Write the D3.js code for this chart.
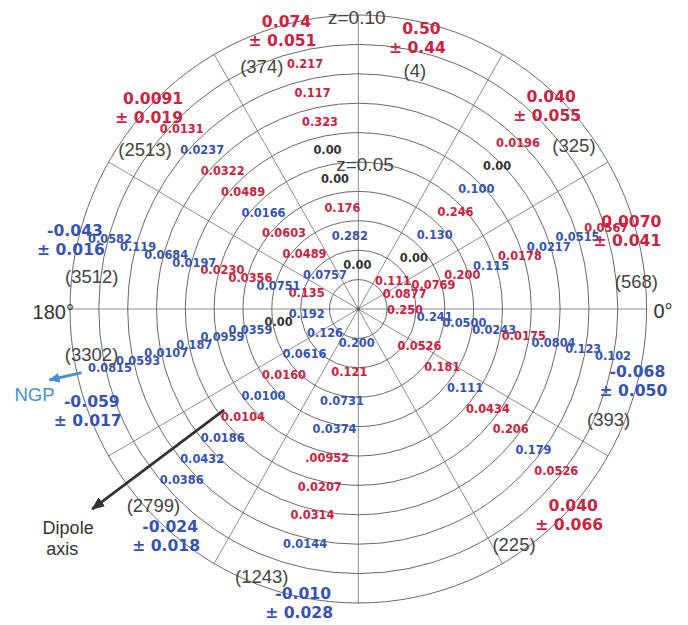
<!DOCTYPE html>
<html>
<head>
<meta charset="utf-8">
<script src="https://cdn.jsdelivr.net/npm/d3@7"></script>
<style>
  body { margin: 0; background: #fff; }
  svg { display: block; }
</style>
</head>
<body>
<svg id="chart" width="688" height="625"></svg>
<script>
// ---- data -----------------------------------------------------------------
// 30-degree sectors, counter-clockwise from 0°
const sectorStart = [0, 30, 60, 90, 120, 150, 180, 210, 240, 270, 300, 330];

// Shell values for redshift shells 0.01-0.02 ... 0.08-0.09 in each sector
const shellValues = [
  ["0.0877", "0.0769", "0.200", "0.115", "0.0178", "0.0217", "0.0515", "0.0567"],
  ["0.111", "0.00", "0.130", "0.246", "0.100", "0.00", "0.0196", null],
  [null, null, null, null, null, null, null, null],
  ["0.00", "0.282", "0.176", "0.00", "0.00", "0.323", "0.117", "0.217"],
  ["0.0757", "0.0489", "0.0603", "0.0166", "0.0489", "0.0322", "0.0237", "0.0131"],
  ["0.135", "0.0751", "0.0356", "0.0230", "0.0197", "0.0684", "0.119", "0.0582"],
  ["0.192", "0.00", "0.0359", "0.0959", "0.187", "0.0107", "0.0593", "0.0815"],
  ["0.126", "0.0616", "0.0160", "0.0100", "0.0104", "0.0186", "0.0432", "0.0386"],
  ["0.200", "0.121", "0.0731", "0.0374", ".00952", "0.0207", "0.0314", "0.0144"],
  [null, null, null, null, null, null, null, null],
  [null, "0.0526", "0.181", "0.111", "0.0434", "0.206", "0.179", "0.0526"],
  ["0.250", "0.241", "0.0500", "0.0243", "0.0175", "0.0804", "0.123", "0.102"]
];
// Sign of each shell value: 1 positive, -1 negative, 0 zero
const shellSign = [
  [1, 1, 1, -1, 1, -1, -1, 1],
  [1, 0, -1, 1, -1, 0, 1, null],
  [null, null, null, null, null, null, null, null],
  [0, -1, 1, 0, 0, 1, 1, 1],
  [-1, 1, 1, -1, 1, 1, -1, 1],
  [1, -1, 1, 1, -1, -1, -1, -1],
  [-1, 0, -1, -1, -1, -1, -1, -1],
  [-1, -1, 1, -1, 1, -1, -1, -1],
  [-1, 1, -1, -1, 1, 1, 1, -1],
  [null, null, null, null, null, null, null, null],
  [null, 1, 1, -1, 1, 1, -1, 1],
  [1, -1, -1, -1, 1, -1, -1, -1]
];

// Sector totals
const sectorMean  = ["0.0070", "0.040", "0.50", "0.074", "0.0091", "-0.043", "-0.059", "-0.024", "-0.010", null, "0.040", "-0.068"];
const sectorError = ["0.041", "0.055", "0.44", "0.051", "0.019", "0.016", "0.017", "0.018", "0.028", null, "0.066", "0.050"];
const sectorCount = [568, 325, 4, 374, 2513, 3512, 3302, 2799, 1243, null, 225, 393];

// Reference directions (degrees)
const dipoleAxisAngle = 216.4;
const ngpAngle = 192.7;

// Redshift rings
const ringZ = d3.range(1, 11).map(i => i / 100);
const spokeAngles = d3.range(0, 360, 30);

// ---- layout ---------------------------------------------------------------
const cx = 358.3, cy = 309;
const rX = d3.scaleLinear().domain([0, 0.10]).range([0, 288.3]);
const rY = d3.scaleLinear().domain([0, 0.10]).range([0, 294]);
const project = (deg, z) => {
  const a = deg * Math.PI / 180;
  return [cx + rX(z) * Math.cos(a), cy - rY(z) * Math.sin(a)];
};

// Path along which each sector's shell labels run: [angle, z] of the
// innermost (shell 2) and outermost (shell 9) label
const labelPath = [
  [[17.6, 0.01688], [17.8, 0.09036]],
  [[38.35, 0.01535], [45.7, 0.08966]],
  null,
  [[91.3, 0.01497], [102.5, 0.08526]],
  [[134.96, 0.01635], [135.06, 0.08654]],
  [[163.4, 0.01868], [164.6, 0.08933]],
  [[185.4, 0.01798], [193.2, 0.08846]],
  [[215.6, 0.01420], [223.5, 0.08447]],
  [[267.3, 0.01168], [257.0, 0.08204]],
  null,
  [[337.0, 0.01447], [321.3, 0.08799]],
  [[358.8, 0.01620], [349.8, 0.08976]]
];
// [angle, z] of the sector total and of the galaxy count
const meanPos = [
  [17.5, 0.0993], [47.2, 0.0985], [77.1, 0.0980], [104.3, 0.1008], [134.8, 0.1010], [164.7, 0.1019],
  [198.7, 0.0976], [228.6, 0.0987], [258.8, 0.0986], null, [318.2, 0.1000], [347.6, 0.0991]
];
const countPos = [
  [5.5, 0.0969], [36.7, 0.0933], [76.4, 0.0834], [112.1, 0.0890], [143.8, 0.0917], [173.2, 0.0931],
  [189.5, 0.0938], [223.2, 0.0975], [249.8, 0.0970], null, [304.0, 0.0966], [336.6, 0.0946]
];

const RED = "#cc2240", BLUE = "#3653b4", BLACK = "#333", LIGHTBLUE = "#4a8fd6";
const signColor = s => s > 0 ? RED : (s < 0 ? BLUE : BLACK);

const svg = d3.select("#chart");

// ---- grid -------------------------------------------------------------------
const grid = svg.append("g");
grid.selectAll("line.spoke").data(spokeAngles).join("line")
  .attr("class", "spoke")
  .attr("x1", cx).attr("y1", cy)
  .attr("x2", d => project(d, 0.10)[0])
  .attr("y2", d => project(d, 0.10)[1])
  .attr("stroke", "#8c8c8c").attr("stroke-width", 1);

grid.selectAll("ellipse").data(ringZ).join("ellipse")
  .attr("cx", cx).attr("cy", cy)
  .attr("rx", d => rX(d)).attr("ry", d => rY(d))
  .attr("fill", "none").attr("stroke", "#6a6a6a").attr("stroke-width", 1);

grid.append("circle").attr("cx", cx).attr("cy", cy).attr("r", 1.8).attr("fill", "#555");

// ---- axis annotations -------------------------------------------------------
const ann = svg.append("g").attr("font-family", "'Liberation Sans', Arial, sans-serif").attr("fill", "#444");
[[0.10, -1.5, 2.5, "z=0.10"], [0.05, 6.7, 2.0, "z=0.05"]].forEach(([z, dx, dy, t]) => {
  const p = project(90, z);
  ann.append("text").attr("x", p[0] + dx).attr("y", p[1] + dy).attr("dy", "0.35em")
    .attr("text-anchor", "middle").attr("font-size", 19).text(t);
});
{
  const p0 = project(0, 0.10), p180 = project(180, 0.10);
  ann.append("text").attr("x", p0[0] + 16.4).attr("y", p0[1] + 2).attr("dy", "0.35em")
    .attr("text-anchor", "middle").attr("font-size", 20).attr("fill", "#333").text("0°");
  ann.append("text").attr("x", p180[0] - 16.7).attr("y", p180[1] + 3).attr("dy", "0.35em")
    .attr("text-anchor", "middle").attr("font-size", 20).attr("fill", "#333").text("180°");
}

// ---- arrows ------------------------------------------------------------------
const defs = svg.append("defs");
function arrowMarker(id, color, w, l) {
  defs.append("marker").attr("id", id)
    .attr("viewBox", `0 -${w} ${l} ${2 * w}`)
    .attr("refX", l - 1).attr("refY", 0)
    .attr("markerUnits", "userSpaceOnUse")
    .attr("markerWidth", l).attr("markerHeight", 2 * w)
    .attr("orient", "auto")
    .append("path").attr("d", `M0,-${w}L${l},0L0,${w}Z`).attr("fill", color);
}
arrowMarker("dipoleHead", "#333", 5.5, 13);
arrowMarker("ngpHead", LIGHTBLUE, 5, 11);

{
  const a = project(dipoleAxisAngle, 0.0578), b = project(dipoleAxisAngle, 0.1147);
  svg.append("line").attr("x1", a[0]).attr("y1", a[1]).attr("x2", b[0]).attr("y2", b[1])
    .attr("stroke", "#333").attr("stroke-width", 2.8).attr("marker-end", "url(#dipoleHead)");
  const t = project(dipoleAxisAngle, 0.1147);
  ann.append("text").attr("x", t[0] - 24).attr("y", t[1] + 19).attr("dy", "0.35em")
    .attr("text-anchor", "middle").attr("font-size", 18).attr("fill", "#333").text("Dipole");
  ann.append("text").attr("x", t[0] - 30).attr("y", t[1] + 40).attr("dy", "0.35em")
    .attr("text-anchor", "middle").attr("font-size", 18).attr("fill", "#333").text("axis");

  const n0 = project(ngpAngle, 0.0984), n1 = project(ngpAngle, 0.1098);
  svg.append("line").attr("x1", n0[0]).attr("y1", n0[1]).attr("x2", n1[0]).attr("y2", n1[1])
    .attr("stroke", LIGHTBLUE).attr("stroke-width", 3).attr("marker-end", "url(#ngpHead)");
  ann.append("text").attr("x", n1[0] - 15).attr("y", n1[1] + 15).attr("dy", "0.35em")
    .attr("text-anchor", "middle").attr("font-size", 18.5).attr("fill", LIGHTBLUE).text("NGP");
}

// ---- shell labels ------------------------------------------------------------
const shellLabels = [];
shellValues.forEach((vals, s) => {
  const path = labelPath[s];
  if (!path) return;
  const p0 = project(...path[0]), p1 = project(...path[1]);
  vals.forEach((v, i) => {
    if (v === null) return;
    const t = i / (vals.length - 1);
    shellLabels.push({
      text: v, sign: shellSign[s][i],
      x: p0[0] + (p1[0] - p0[0]) * t,
      y: p0[1] + (p1[1] - p0[1]) * t
    });
  });
});
svg.append("g").attr("font-family", "'DejaVu Sans', Verdana, sans-serif")
  .attr("font-weight", "bold").attr("font-size", 11.4)
  .selectAll("text").data(shellLabels).join("text")
  .attr("x", d => d.x).attr("y", d => d.y).attr("dy", "0.36em")
  .attr("text-anchor", "middle")
  .attr("fill", d => signColor(d.sign))
  .text(d => d.text);

// ---- galaxy counts -------------------------------------------------------------
const counts = sectorCount.map((c, s) => ({ c, pos: countPos[s] })).filter(d => d.c !== null);
svg.append("g").attr("font-family", "'Liberation Sans', Arial, sans-serif")
  .attr("font-size", 18.5).attr("fill", "#444")
  .selectAll("text").data(counts).join("text")
  .attr("x", d => project(...d.pos)[0]).attr("y", d => project(...d.pos)[1])
  .attr("dy", "0.35em").attr("text-anchor", "middle")
  .text(d => `(${d.c})`);

// ---- sector totals ---------------------------------------------------------------
const totals = sectorMean.map((m, s) => ({ m, e: sectorError[s], pos: meanPos[s] })).filter(d => d.m !== null);
const tg = svg.append("g").attr("font-family", "'DejaVu Sans', Verdana, sans-serif")
  .attr("font-weight", "bold").attr("font-size", 15.6);
const tot = tg.selectAll("g").data(totals).join("g")
  .attr("transform", d => `translate(${project(...d.pos)})`)
  .attr("fill", d => signColor(+d.m));
tot.append("text").attr("text-anchor", "middle").attr("dy", "0.36em").text(d => d.m);
tot.append("text").attr("text-anchor", "middle").attr("x", -4).attr("y", 19).attr("dy", "0.36em")
  .text(d => `± ${d.e}`);
</script>
</body>
</html>
